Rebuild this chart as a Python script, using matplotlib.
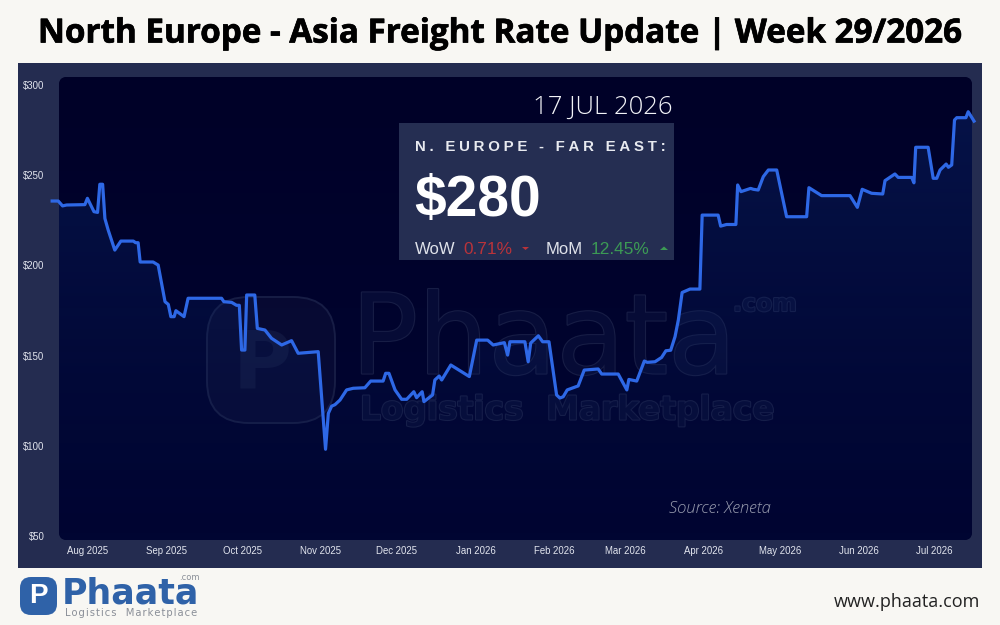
import numpy as np
import pandas as pd
import matplotlib
matplotlib.use("Agg")
import matplotlib.pyplot as plt
import matplotlib.dates as mdates
import matplotlib.patheffects as pe
from matplotlib.patches import FancyBboxPatch, Rectangle, Polygon
from matplotlib.ticker import FuncFormatter

# days since 1 Aug 2025
days = [-13.9, -11.5, -9.8, -8.2, -1, 0, 2.6, 4, 4.9, 6, 6.9, 8.2, 10.8, 13.2, 18.1, 19, 20, 20.8, 25.9, 27.9,
        30.6, 31.9, 32.9, 34.2, 34.9, 38.1, 39.7, 52.9, 53.8, 56.9, 58.8, 59.9, 60.8, 62.1, 62.8, 66, 67, 70,
        72.6, 76.6, 80.5, 83.1, 91, 93.9, 95, 96.3, 97.6, 99.6, 102.2, 104.8, 109.4, 111.7, 116.6, 117.6,
        118.9, 121.3, 123.9, 125.9, 128.7, 129.8, 132, 132.7, 136.1, 137, 138.7, 139.7, 143.3, 150.6, 153.5,
        157.8, 160, 164.4, 165.7, 166.6, 172.5, 173.8, 174.8, 177.8, 179.5, 182, 185, 186.3, 187.6, 189.2,
        193.5, 195.9, 201.4, 202.8, 209.3, 212.7, 213.5, 216.6, 219.6, 220.7, 223.8, 226.4, 228.1, 230,
        231.7, 233, 234.5, 237.6, 241.5, 242.4, 248.7, 249.7, 252, 255.7, 256.4, 257.7, 261.5, 262.6, 264.5,
        266.5, 268.5, 271.8, 275.7, 283.6, 284.5, 289.5, 300.7, 303.6, 305.5, 309.2, 313.6, 314.5, 318.4,
        319.7, 325, 325.9, 326.6, 331.5, 333.5, 334.9, 336.2, 338.6, 339.5, 340.8, 341.9, 342.8, 346.4,
        347.3, 349.6]
rates = [235.7, 235.7, 233, 233.5, 233.7, 237.2, 229.8, 229.4, 245, 245, 226, 219.6, 208.5, 213.5, 213.5, 212.6,
         212.6, 201.9, 201.9, 200.2, 179.9, 178.4, 171.6, 171.6, 174.9, 171.6, 181.8, 181.8, 179.9, 179.5,
         177.9, 177.9, 153.1, 153.1, 183.6, 183.6, 165.1, 164.2, 159.6, 155.9, 158.3, 151.3, 152.2, 98.1, 118,
         122, 122.8, 125.4, 131, 131.9, 132.2, 135.9, 135.9, 140.2, 140.2, 131, 125.8, 125.8, 130, 126.7, 130,
         124.5, 128.2, 136.5, 138.7, 136.5, 144.8, 138.4, 158.6, 158.6, 155.9, 157.2, 150.3, 157.7, 157.7,
         146.6, 157, 161, 157.7, 157.7, 128.2, 126.5, 127.2, 131, 133.2, 142, 142.6, 139.8, 139.8, 131, 136.8,
         135.9, 147, 146.3, 146.6, 149, 152.7, 153, 160.5, 169.7, 185, 186.9, 186.9, 227.9, 227.9, 221.8,
         222.7, 222.7, 244.6, 240.9, 242.7, 242.2, 241.8, 249.2, 252.9, 252.9, 227, 227, 243.1, 238.7, 238.7,
         232.2, 242.2, 240, 239.6, 247, 250.7, 248.8, 248.8, 245.8, 265.5, 265.5, 248.3, 248.3, 252.9, 256.2,
         254.4, 255.7, 280.6, 281.9, 281.9, 285.2, 280]
yticks = [50, 100, 150, 200, 250, 300]

title = "North Europe - Asia Freight Rate Update | Week 29/2026"

start = pd.Timestamp("2025-08-01")
dates = [start + pd.Timedelta(days=d) for d in days]

BAND = "#242c50"
plt.rcParams["font.family"] = ["Liberation Sans", "DejaVu Sans"]

fig = plt.figure(figsize=(10, 6.25), dpi=100, facecolor="#f8f7f3")

# page layer, in pixels
bg = fig.add_axes([0, 0, 1, 1], zorder=0)
bg.set_xlim(0, 1000)
bg.set_ylim(625, 0)
bg.axis("off")
bg.add_patch(Rectangle((18, 63), 964, 505, fc=BAND, ec="none"))
panel = FancyBboxPatch((66, 84), 899, 449, boxstyle="round,pad=7,rounding_size=8", fc="#00012a", ec="none")
bg.add_patch(panel)
grad = np.linspace(0, 1, 64).reshape(-1, 1, 1)
top = np.array([0, 1, 40]) / 255
low = np.array([0, 5, 50]) / 255
im = bg.imshow(top + grad * (low - top), extent=(59, 972, 540, 77), aspect="auto", zorder=1)
im.set_clip_path(panel)
bg.set_xlim(0, 1000)
bg.set_ylim(625, 0)

# watermark, outlined letters
wm_fx = [pe.withStroke(linewidth=1.6, foreground="#171d45")]
wm_fill = "#060b36"
bg.add_patch(FancyBboxPatch((237, 327), 68, 66, boxstyle="round,pad=30,rounding_size=42", fc="#ffffff08",
                            ec="#171d45", lw=1.4, zorder=2))
bg.text(262, 365, "P", color="#10163f", fontsize=58, fontweight="bold", family="DejaVu Sans", ha="center",
        va="center", zorder=2)
bg.text(351, 343, "Phaata", color=wm_fill, fontsize=80, family="DejaVu Sans", va="center", ha="left", zorder=2,
        path_effects=wm_fx)
bg.text(360, 410, "Logistics  Marketplace", color=wm_fill, fontsize=23.6, fontweight="bold", family="DejaVu Sans",
        va="center", zorder=2, path_effects=wm_fx)
bg.text(733, 304, ".com", color=wm_fill, fontsize=17, fontweight="bold", family="DejaVu Sans", va="center",
        zorder=2, path_effects=wm_fx)

# chart
ax = fig.add_axes([59 / 1000, 1 - 540 / 625, 913 / 1000, 462 / 625], zorder=1)
ax.patch.set_alpha(0)
x0 = start + pd.Timedelta(days=-11.2)
x1 = start + pd.Timedelta(days=348.8)
for s in ax.spines.values():
    s.set_visible(False)

# area under the line, fading down
xn = mdates.date2num(dates)
fade = np.zeros((128, 1, 4))
fade[:, 0, 0] = 12 / 255
fade[:, 0, 1] = 40 / 255
fade[:, 0, 2] = 110 / 255
fade[:, 0, 3] = np.linspace(0.48, 0.0, 128) ** 1.1
area = ax.imshow(fade, extent=(xn[0], xn[-1], 47.8, 285), aspect="auto", zorder=1, origin="upper")
clip = Polygon(list(zip(xn, rates)) + [(xn[-1], 47.8), (xn[0], 47.8)], closed=True, transform=ax.transData,
               fc="none", ec="none")
ax.add_patch(clip)
area.set_clip_path(clip)
ax.set_xlim(x0, x1)
ax.set_ylim(47.8, 303.9)
ax.set_aspect("auto")

ax.plot(dates, rates, color="#2e68e6", lw=2.3, solid_joinstyle="round", clip_on=False, zorder=3)

ax.xaxis.set_major_locator(mdates.MonthLocator())
ax.xaxis.set_major_formatter(mdates.DateFormatter("%b %Y"))
ax.set_yticks(yticks)
ax.yaxis.set_major_formatter(FuncFormatter(lambda v, p: "$%d" % v))
ax.tick_params(axis="x", length=0, pad=4.5, labelsize=6.9, labelcolor="#e2e5ee")
ax.tick_params(axis="y", length=0, pad=10.5, labelsize=6.9, labelcolor="#e2e5ee")

# card, logo and the other text, in pixels again
ov = fig.add_axes([0, 0, 1, 1], zorder=3)
ov.set_xlim(0, 1000)
ov.set_ylim(625, 0)
ov.axis("off")

ov.text(499, 34, title, fontsize=23.9, fontweight="bold", color="black", family="Open Sans", ha="center",
        va="center", path_effects=[pe.withStroke(linewidth=0.5, foreground="black")])

ov.text(673, 107, "17 JUL 2026", fontsize=18.5, color="#f2f3f7", family="Open Sans", fontweight="light", ha="right",
        va="center")
ov.add_patch(Rectangle((399, 123), 275, 137, fc="#252e52", ec="none"))
ov.text(415, 147, "\u200a\u200a\u200a".join("N. EUROPE - FAR EAST:"), fontsize=10.8,
        fontweight="bold", color="#e8eaf0", va="center")
ov.text(414, 201, "$280", fontsize=41, fontweight="bold", color="white", va="center")
ov.text(415, 249, "WoW", fontsize=12, color="#dfe2ea", va="center")
ov.text(463, 249, "0.71%", fontsize=12.4, color="#b9333a", va="center")
ov.add_patch(Polygon([(522, 247), (529, 247), (525.5, 250)], fc="#b9333a", ec="none"))
ov.text(546, 249, "MoM", fontsize=12, color="#dfe2ea", va="center")
ov.text(591, 249, "12.45%", fontsize=12.4, color="#3c9a55", va="center")
ov.add_patch(Polygon([(660, 250), (668, 250), (664, 246.5)], fc="#3c9a55", ec="none"))

ov.text(669, 509, "Source: Xeneta", fontsize=12, style="italic", color="#9a9eb0", family="Open Sans",
        fontweight="light", va="center")
ov.text(980, 602, "www.phaata.com", fontsize=13, color="#222222", family="Open Sans", ha="right", va="center")

ov.add_patch(FancyBboxPatch((30, 587), 17, 18, boxstyle="round,pad=10,rounding_size=11", fc="#2f62a8", ec="none"))
ov.text(38.5, 596, "P", fontsize=20, fontweight="bold", color="white", ha="center", va="center")
ov.text(62, 593, "Phaata", fontsize=25, color="#2f62a8", fontweight="bold", family="DejaVu Sans", va="center")
ov.text(179, 578, ".com", fontsize=6, color="#8a8f98", family="DejaVu Sans", va="center")
ov.text(65, 613, "\u200a".join("Logistics  Marketplace"), fontsize=7.2, color="#8a8f98", family="DejaVu Sans",
        va="center")

fig.savefig("out.png", dpi=100)
